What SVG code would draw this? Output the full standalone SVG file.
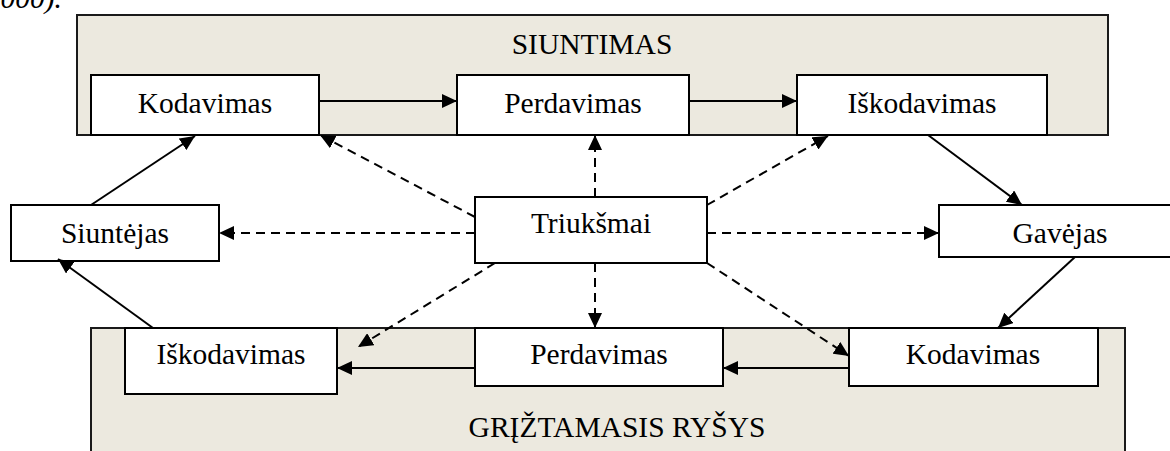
<svg xmlns="http://www.w3.org/2000/svg" width="1170" height="451" viewBox="0 0 1170 451">
  <style>
    .panel { fill: #ECE9DF; stroke: #1a1a1a; stroke-width: 2; }
    .box { fill: #ffffff; stroke: #000000; stroke-width: 2; }
    .lbl { font-family: "Liberation Serif", "Times New Roman", serif; font-size: 29.5px; fill: #000000; text-anchor: middle; }
    .solid { stroke: #000000; stroke-width: 2; fill: none; marker-end: url(#head); }
    .dash { stroke: #000000; stroke-width: 2; fill: none; stroke-dasharray: 9 6; marker-end: url(#head); }
  </style>
  <defs>
    <marker id="head" markerUnits="userSpaceOnUse" markerWidth="15" markerHeight="14" refX="15" refY="7" orient="auto">
      <path d="M0,0 L15,7 L0,14 z" fill="#000000"/>
    </marker>
  </defs>

  <rect width="1170" height="451" fill="#ffffff"/>

  <!-- trailing reference text from the preceding paragraph -->
  <text x="62" y="8" font-family="Liberation Serif, serif" font-size="29.5" font-style="italic" text-anchor="end">000).</text>

  <!-- sending stage -->
  <g id="siuntimas">
    <rect class="panel" x="77" y="15" width="1031" height="120"/>
    <text class="lbl" x="592" y="54">SIUNTIMAS</text>
  </g>

  <!-- feedback stage -->
  <g id="griztamasis">
    <rect class="panel" x="91" y="328" width="1034" height="130"/>
    <text class="lbl" x="617" y="437">GRĮŽTAMASIS RYŠYS</text>
  </g>

  <g id="kodavimas1">
    <rect class="box" x="91" y="75" width="228" height="60"/>
    <text class="lbl" x="205" y="113">Kodavimas</text>
  </g>
  <g id="perdavimas1">
    <rect class="box" x="457" y="75" width="232" height="60"/>
    <text class="lbl" x="573" y="113">Perdavimas</text>
  </g>
  <g id="iskodavimas1">
    <rect class="box" x="797" y="75" width="250" height="60"/>
    <text class="lbl" x="922" y="113">Iškodavimas</text>
  </g>

  <g id="siuntejas">
    <rect class="box" x="11" y="205" width="208" height="56"/>
    <text class="lbl" x="115" y="243">Siuntėjas</text>
  </g>
  <g id="triuksmai">
    <rect class="box" x="475" y="197" width="232" height="66"/>
    <text class="lbl" x="591" y="233">Triukšmai</text>
  </g>
  <g id="gavejas">
    <rect class="box" x="939" y="205" width="240" height="52"/>
    <text class="lbl" x="1060" y="243">Gavėjas</text>
  </g>

  <g id="iskodavimas2">
    <rect class="box" x="125" y="328" width="212" height="66"/>
    <text class="lbl" x="231" y="364">Iškodavimas</text>
  </g>
  <g id="perdavimas2">
    <rect class="box" x="475" y="328" width="248" height="58"/>
    <text class="lbl" x="599" y="364">Perdavimas</text>
  </g>
  <g id="kodavimas2">
    <rect class="box" x="849" y="328" width="249" height="58"/>
    <text class="lbl" x="973" y="364">Kodavimas</text>
  </g>

  <g id="connectors">
    <!-- message flow -->
    <line class="solid" x1="319" y1="101" x2="457" y2="101"/>
    <line class="solid" x1="689" y1="101" x2="797" y2="101"/>
    <line class="solid" x1="91" y1="205" x2="195" y2="136"/>
    <line class="solid" x1="153" y1="328" x2="58" y2="259"/>
    <line class="solid" x1="928" y1="135" x2="1022" y2="205"/>
    <line class="solid" x1="1075" y1="257" x2="998" y2="328"/>
    <line class="solid" x1="849" y1="368" x2="723" y2="368"/>
    <line class="solid" x1="475" y1="368" x2="337" y2="368"/>

    <!-- noise influence -->
    <line class="dash" x1="475" y1="233" x2="219" y2="233"/>
    <line class="dash" x1="707" y1="233" x2="939" y2="233"/>
    <line class="dash" x1="595" y1="197" x2="595" y2="135"/>
    <line class="dash" x1="595" y1="263" x2="595" y2="328"/>
    <line class="dash" x1="475" y1="217" x2="320" y2="135"/>
    <line class="dash" x1="707" y1="205" x2="828" y2="136"/>
    <line class="dash" x1="495" y1="263" x2="358" y2="347"/>
    <line class="dash" x1="707" y1="263" x2="849" y2="356"/>
  </g>
</svg>
